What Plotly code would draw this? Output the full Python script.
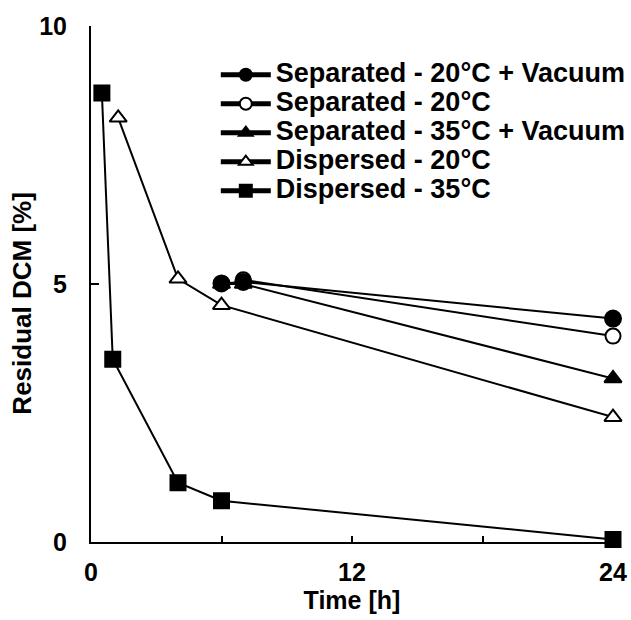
import plotly.graph_objects as go

# data
sep20v_x = [6, 7, 24]
sep20v_y = [5.01, 5.04, 4.33]
sep20_x = [7, 24]
sep20_y = [5.08, 3.99]
sep35v_x = [6, 7, 24]
sep35v_y = [5.0, 5.0, 3.17]
disp20_x = [1.25, 4, 6, 24]
disp20_y = [8.22, 5.1, 4.59, 2.42]
disp35_x = [0.5, 1, 4, 6, 24]
disp35_y = [8.7, 3.54, 1.15, 0.80, 0.05]

x_tickvals = [0, 6, 12, 18, 24]
x_ticktext = ["0", "", "12", "", "24"]
y_tickvals = [0, 5, 10]

FONT = "Liberation Sans, Arial, sans-serif"
LEG_SIZE = 27

fig = go.Figure()

def add(x, y, name, symbol, fill, rank, size=15):
    fig.add_trace(go.Scatter(
        x=x, y=y,
        name=f'<span style="font-size:{LEG_SIZE}px">{name}</span>',
        mode="lines+markers",
        line=dict(color="black", width=2),
        marker=dict(symbol=symbol, size=size, color=fill,
                    line=dict(color="black", width=2)),
        legendrank=rank, cliponaxis=False,
    ))

add(disp35_x, disp35_y, "Dispersed - 35°C", "square", "black", 5, 15)
add(disp20_x, disp20_y, "Dispersed - 20°C", "triangle-up", "white", 4, 15)
add(sep35v_x, sep35v_y, "Separated - 35°C + Vacuum", "triangle-up", "black", 3, 15)
add(sep20_x, sep20_y, "Separated - 20°C", "circle", "white", 2, 15)
add(sep20v_x, sep20v_y, "Separated - 20°C + Vacuum", "circle", "black", 1, 16)

fig.update_layout(
    width=631, height=620,
    margin=dict(l=91, r=18, t=26, b=78, autoexpand=False),
    plot_bgcolor="white", paper_bgcolor="white",
    font=dict(family=FONT, size=25, color="black"),
    showlegend=True,
    legend=dict(
        xref="container", yref="container",
        x=0.342, y=0.911, xanchor="left", yanchor="top",
        bgcolor="rgba(0,0,0,0)",
        font=dict(family=FONT, size=20, color="black", weight="bold"),
        tracegroupgap=0, itemsizing="constant", itemwidth=50,
    ),
    xaxis=dict(
        range=[0, 24], tickvals=x_tickvals, ticktext=x_ticktext,
        showline=True, linecolor="black", linewidth=2,
        ticks="inside", ticklen=6, tickwidth=1.5, tickcolor="black",
        showgrid=False, zeroline=False,
        tickfont=dict(family=FONT, size=25, weight="bold"),
        ticklabelstandoff=7,
        title=dict(text="Time [h]", font=dict(family=FONT, size=25, weight="bold"), standoff=0),
    ),
    yaxis=dict(
        range=[0, 10], tickvals=y_tickvals,
        showline=True, linecolor="black", linewidth=2,
        ticks="inside", ticklen=8, tickwidth=1.5, tickcolor="black",
        showgrid=False, zeroline=False,
        tickfont=dict(family=FONT, size=25, weight="bold"),
        ticklabelstandoff=17,
    ),
    annotations=[dict(
        text="<b>Residual DCM [%]</b>", textangle=-90,
        xref="paper", yref="paper", x=-0.1312, y=0.461,
        xanchor="center", yanchor="middle", showarrow=False,
        font=dict(family=FONT, size=26, color="black"),
    )],
)

fig.write_html("out.html", config={"displayModeBar": False},
               post_script="document.body.style.margin='0';document.body.style.overflow='hidden';")
